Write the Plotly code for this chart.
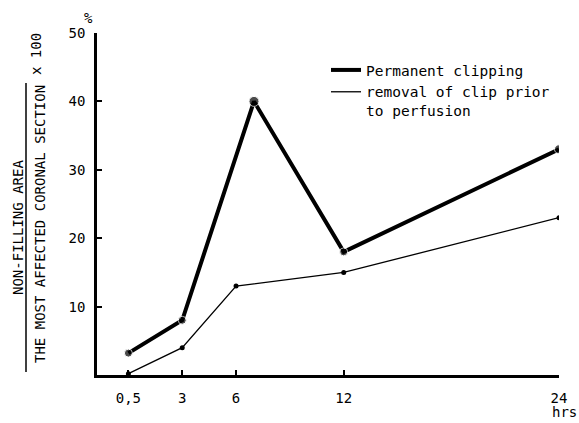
import plotly.graph_objects as go

# axis positions (hours; the 0,5 h point sits at the origin of the drawn scale)
time_thick = [0, 3, 7, 12, 24]
permanent_clipping = [3.2, 8, 40, 18, 33]
time_thin = [0, 3, 6, 12, 24]
removal_prior = [0.2, 4, 13, 15, 23]

x_tickvals = [0, 3, 6, 12, 24]
x_ticktext = ["0,5", "3", "6", "12", "24"]
y_tickvals = [10, 20, 30, 40, 50]

FONT = "DejaVu Sans Mono"

fig = go.Figure()
fig.add_trace(go.Scatter(x=time_thick, y=permanent_clipping, mode="lines+markers",
                         line=dict(color="black", width=4),
                         marker=dict(color="black", size=[8, 8, 10, 8, 9]),
                         showlegend=False))
fig.add_trace(go.Scatter(x=time_thin, y=removal_prior, mode="lines+markers",
                         line=dict(color="black", width=1.3),
                         marker=dict(color="black", size=5),
                         showlegend=False))
# legend entries (line samples)
fig.add_trace(go.Scatter(x=[None], y=[None], mode="lines", name="Permanent clipping",
                         line=dict(color="black", width=4)))
fig.add_trace(go.Scatter(x=[None], y=[None], mode="lines",
                         name="removal of clip prior<br>to perfusion",
                         line=dict(color="black", width=1.3)))

L, R, T, B = 97, 20, 33, 48
W, H = 579, 423
pw, ph = W - L - R, H - T - B

def px(x):
    return (x - L) / pw

def py(y):
    return (H - B - y) / ph

fig.update_layout(
    width=W, height=H,
    margin=dict(l=L, r=R, t=T, b=B),
    paper_bgcolor="white", plot_bgcolor="white",
    font=dict(family=FONT, size=14, color="black"),
    legend=dict(x=px(326), y=py(54), xanchor="left", yanchor="top",
                bgcolor="rgba(0,0,0,0)", valign="top",
                font=dict(family=FONT, size=14.5)),
    xaxis=dict(range=[-1.75, 24], tickvals=x_tickvals, ticktext=x_ticktext,
               showgrid=False, zeroline=False, showline=True, linecolor="black",
               linewidth=2.5, ticks="inside", ticklen=5, tickwidth=2, tickcolor="black",
               ticklabelstandoff=8),
    yaxis=dict(range=[0, 50], tickvals=y_tickvals, showgrid=False, zeroline=False,
               showline=True, linecolor="black", linewidth=2.5, ticks="inside",
               ticklen=5, tickwidth=2, tickcolor="black", ticklabelstandoff=6),
    showlegend=True,
)

ann = [
    dict(text="NON-FILLING AREA", x=px(18), y=py(228), textangle=-90),
    dict(text="THE MOST AFFECTED CORONAL SECTION", x=px(40), y=py(224), textangle=-90),
    dict(text="x 100", x=px(36), y=py(54), textangle=-90),
    dict(text="%", x=px(88), y=py(18)),
    dict(text="hrs", x=px(564), y=py(412)),
]
for a in ann:
    fig.add_annotation(xref="paper", yref="paper", showarrow=False,
                       xanchor="center", yanchor="middle",
                       font=dict(family=FONT, size=14, color="black"), **a)

fig.add_shape(type="line", xref="paper", yref="paper",
              x0=px(26), x1=px(26), y0=py(372), y1=py(83),
              line=dict(color="black", width=1.5))

fig.write_html("out.html", config={"displayModeBar": False},
               post_script="document.body.style.margin='0';document.body.style.overflow='hidden';")
